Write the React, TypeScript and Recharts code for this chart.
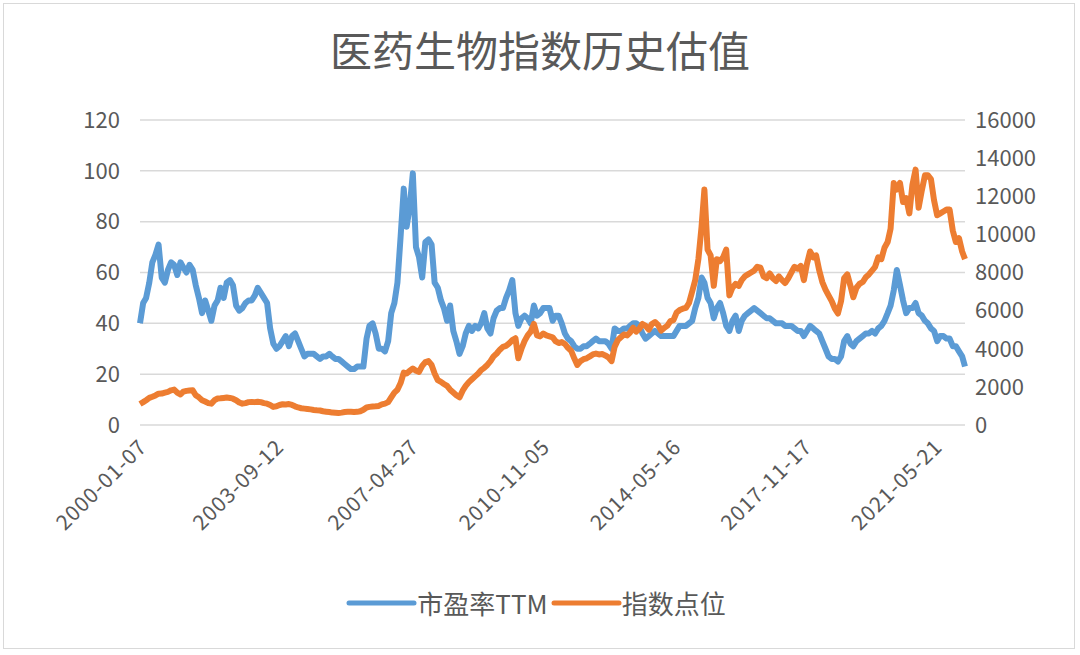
import React from 'react';
import { LineChart, Line, XAxis, YAxis, CartesianGrid, Legend } from 'recharts';

// monthly samples, 2000-01 .. 2022-03
const months = [
  '2000-01', '2000-02', '2000-03', '2000-04', '2000-05', '2000-06', '2000-07', '2000-08', '2000-09', '2000-10', '2000-11', '2000-12',
  '2001-01', '2001-02', '2001-03', '2001-04', '2001-05', '2001-06', '2001-07', '2001-08', '2001-09', '2001-10', '2001-11', '2001-12',
  '2002-01', '2002-02', '2002-03', '2002-04', '2002-05', '2002-06', '2002-07', '2002-08', '2002-09', '2002-10', '2002-11', '2002-12',
  '2003-01', '2003-02', '2003-03', '2003-04', '2003-05', '2003-06', '2003-07', '2003-08', '2003-09', '2003-10', '2003-11', '2003-12',
  '2004-01', '2004-02', '2004-03', '2004-04', '2004-05', '2004-06', '2004-07', '2004-08', '2004-09', '2004-10', '2004-11', '2004-12',
  '2005-01', '2005-02', '2005-03', '2005-04', '2005-05', '2005-06', '2005-07', '2005-08', '2005-09', '2005-10', '2005-11', '2005-12',
  '2006-01', '2006-02', '2006-03', '2006-04', '2006-05', '2006-06', '2006-07', '2006-08', '2006-09', '2006-10', '2006-11', '2006-12',
  '2007-01', '2007-02', '2007-03', '2007-04', '2007-05', '2007-06', '2007-07', '2007-08', '2007-09', '2007-10', '2007-11', '2007-12',
  '2008-01', '2008-02', '2008-03', '2008-04', '2008-05', '2008-06', '2008-07', '2008-08', '2008-09', '2008-10', '2008-11', '2008-12',
  '2009-01', '2009-02', '2009-03', '2009-04', '2009-05', '2009-06', '2009-07', '2009-08', '2009-09', '2009-10', '2009-11', '2009-12',
  '2010-01', '2010-02', '2010-03', '2010-04', '2010-05', '2010-06', '2010-07', '2010-08', '2010-09', '2010-10', '2010-11', '2010-12',
  '2011-01', '2011-02', '2011-03', '2011-04', '2011-05', '2011-06', '2011-07', '2011-08', '2011-09', '2011-10', '2011-11', '2011-12',
  '2012-01', '2012-02', '2012-03', '2012-04', '2012-05', '2012-06', '2012-07', '2012-08', '2012-09', '2012-10', '2012-11', '2012-12',
  '2013-01', '2013-02', '2013-03', '2013-04', '2013-05', '2013-06', '2013-07', '2013-08', '2013-09', '2013-10', '2013-11', '2013-12',
  '2014-01', '2014-02', '2014-03', '2014-04', '2014-05', '2014-06', '2014-07', '2014-08', '2014-09', '2014-10', '2014-11', '2014-12',
  '2015-01', '2015-02', '2015-03', '2015-04', '2015-05', '2015-06', '2015-07', '2015-08', '2015-09', '2015-10', '2015-11', '2015-12',
  '2016-01', '2016-02', '2016-03', '2016-04', '2016-05', '2016-06', '2016-07', '2016-08', '2016-09', '2016-10', '2016-11', '2016-12',
  '2017-01', '2017-02', '2017-03', '2017-04', '2017-05', '2017-06', '2017-07', '2017-08', '2017-09', '2017-10', '2017-11', '2017-12',
  '2018-01', '2018-02', '2018-03', '2018-04', '2018-05', '2018-06', '2018-07', '2018-08', '2018-09', '2018-10', '2018-11', '2018-12',
  '2019-01', '2019-02', '2019-03', '2019-04', '2019-05', '2019-06', '2019-07', '2019-08', '2019-09', '2019-10', '2019-11', '2019-12',
  '2020-01', '2020-02', '2020-03', '2020-04', '2020-05', '2020-06', '2020-07', '2020-08', '2020-09', '2020-10', '2020-11', '2020-12',
  '2021-01', '2021-02', '2021-03', '2021-04', '2021-05', '2021-06', '2021-07', '2021-08', '2021-09', '2021-10', '2021-11', '2021-12',
  '2022-01', '2022-02', '2022-03',
];

// 市盈率TTM (left axis)
const peTTM = [
  40, 48, 50, 56, 64, 67, 71, 58, 56, 61, 64, 63,
  59, 64, 62, 60, 63, 61, 55, 50, 44, 49, 45, 41,
  47, 49, 54, 50, 56, 57, 55, 47, 45, 46, 48, 49,
  49, 51, 54, 52, 50, 48, 38, 32, 30, 31, 33, 35,
  31, 35, 36, 33, 30, 27, 28, 28, 28, 27, 26, 27,
  27, 28, 27, 26, 26, 25, 24, 23, 22, 22, 23, 23,
  23, 34, 39, 40, 36, 30, 30, 29, 33, 44, 48, 56,
  74, 93, 78, 86, 99, 70, 66, 58, 72, 73, 71, 56,
  54, 49, 46, 41, 47, 37, 33, 28, 31, 36, 39, 37,
  39, 38, 40, 44, 38, 36, 42, 45, 46, 46, 50, 53,
  57, 44, 39, 42, 43, 42, 40, 47, 43, 44, 46, 46,
  46, 41, 43, 43, 40, 36, 34, 33, 31, 30, 30, 31,
  31, 32, 33, 34, 33, 33, 33, 32, 30, 38, 37, 37,
  38, 38, 39, 40, 40, 39, 36, 34, 35, 36, 37, 36,
  35, 35, 35, 35, 35, 37, 39, 39, 39, 40, 41, 46,
  50, 58, 56, 50, 48, 42, 46, 48, 44, 39, 37, 41,
  43, 37, 41, 43, 44, 45, 46, 45, 44, 43, 42, 42,
  41, 40, 40, 40, 39, 39, 39, 38, 37, 37, 35, 37,
  39, 38, 37, 36, 33, 30, 27, 26, 26, 25, 27, 33,
  35, 32, 31, 33, 34, 35, 36, 36, 37, 36, 38, 39,
  41, 44, 47, 53, 61, 55, 49, 44, 46, 46, 48, 44,
  43, 41, 40, 38, 37, 33, 35, 35, 34, 34, 31, 31,
  29, 27, 23,
];

// 指数点位 (right axis)
const indexPoints = [
  1100, 1200, 1300, 1420, 1480, 1550, 1640, 1650, 1700, 1740, 1820, 1860,
  1700, 1600, 1750, 1790, 1810, 1820, 1560, 1450, 1300, 1230, 1150, 1120,
  1300, 1390, 1400, 1420, 1440, 1420, 1380, 1300, 1180, 1120, 1150, 1200,
  1210, 1200, 1220, 1200, 1150, 1120, 1050, 950, 980, 1050, 1090, 1080,
  1100, 1050, 980, 920, 880, 860, 840, 820, 790, 770, 760, 720,
  700, 680, 650, 640, 630, 650, 680, 690, 690, 680, 690, 720,
  800, 920, 950, 970, 980, 1000, 1080, 1120, 1200, 1450, 1700, 1850,
  2200, 2750, 2700, 2850, 2960, 2850, 2790, 3100, 3300, 3350, 3150, 2700,
  2350, 2260, 2150, 2050, 1850, 1700, 1560, 1450, 1800, 2050, 2250, 2400,
  2550, 2700, 2880, 3000, 3150, 3350, 3600, 3750, 3950, 4100, 4150, 4280,
  4450, 4550, 3500, 4000, 4400, 4700, 4900, 5300, 4700, 4650, 4800, 4700,
  4650, 4600, 4400, 4300, 4350, 4250, 4050, 3900, 3500, 3150, 3350, 3450,
  3500, 3600, 3700, 3750, 3700, 3720, 3650, 3550, 3350, 4100, 4450, 4600,
  4750, 4700, 4850, 5100, 4900, 5050, 5300, 5200, 5000, 5300, 5400, 5250,
  4950, 5100, 5200, 5450, 5500, 5900, 6030, 6100, 6150, 6400, 7000, 7600,
  8700, 10400, 12350, 9200, 8900, 7300, 8700, 8600, 8800, 9200, 6800, 7200,
  7400, 7300, 7600, 7800, 7900, 8000, 8100, 8300, 8250, 7800, 7700, 7950,
  7700, 7550, 7800, 7600, 7450, 7700, 8000, 8300, 8200, 8350, 7600, 8450,
  9100, 8800, 8900, 8100, 7500, 7100, 6800, 6500, 6100, 5850, 6500, 7700,
  7900, 7300, 6700, 7200, 7400, 7500, 7750, 7900, 8100, 8300, 8800, 8700,
  9300, 9600, 10300, 12700, 12350, 12700, 11700, 11900, 11100, 12600, 13400, 11400,
  12300, 13100, 13100, 12900, 11800, 11000, 11100, 11200, 11300, 11300, 10200, 9600,
  9800, 9100, 8700,
];

const xTickLabels = ['2000-01-07', '2003-09-12', '2007-04-27', '2010-11-05', '2014-05-16', '2017-11-17', '2021-05-21'];
const peTicks = [0, 20, 40, 60, 80, 100, 120];
const indexTicks = [0, 2000, 4000, 6000, 8000, 10000, 12000, 14000, 16000];

const series = [
  { key: 'pe', label: '市盈率TTM', color: '#5B9BD5', axis: 'pe' },
  { key: 'index', label: '指数点位', color: '#ED7D31', axis: 'index' },
];

const FONT = "'Noto Sans CJK SC', 'Noto Sans', sans-serif";
const TEXT = '#595959';

const toTime = (s: string) => {
  const [y, m, d] = s.split('-').map(Number);
  return Date.UTC(y, m - 1, d || 7);
};

const data = months.map((m, i) => ({ t: toTime(m), pe: peTTM[i], index: indexPoints[i] }));
const labelByTime: Record<number, string> = {};
xTickLabels.forEach((l) => { labelByTime[toTime(l)] = l; });

const DateTick = ({ x, y, payload }: any) => (
  <g transform={`translate(${x + 3},${y + 10})`}>
    <text
      x={0}
      y={0}
      dy="0.35em"
      textAnchor="end"
      transform="rotate(-45)"
      fill={TEXT}
      fontSize={21}
      letterSpacing={1}
      fontFamily={FONT}
    >
      {labelByTime[payload.value]}
    </text>
  </g>
);

const LegendContent = () => (
  <div style={{ display: 'flex', justifyContent: 'center', alignItems: 'center', height: 30, fontFamily: FONT }}>
    {series.map((s, i) => (
      <div key={s.key} style={{ display: 'flex', alignItems: 'center', marginLeft: i ? 3 : 0 }}>
        <svg width={71} height={10}>
          <line x1={3} y1={5} x2={68} y2={5} stroke={s.color} strokeWidth={5} strokeLinecap="round" />
        </svg>
        <span style={{ fontSize: 26, color: TEXT, lineHeight: '30px' }}>{s.label}</span>
      </div>
    ))}
  </div>
);

export default function App() {
  return (
    <div style={{ position: 'absolute', left: 0, top: 0, width: 1080, height: 655, background: '#fff' }}>
      <div
        style={{
          position: 'absolute',
          left: 3,
          top: 3,
          width: 1072,
          height: 646,
          border: '1px solid #d9d9d9',
          boxSizing: 'border-box',
        }}
      />
      <div
        style={{
          position: 'absolute',
          left: 0,
          top: 25,
          width: 1080,
          textAlign: 'center',
          fontFamily: FONT,
          fontSize: 42,
          lineHeight: '48px',
          color: TEXT,
        }}
      >
        医药生物指数历史估值
      </div>
      <div style={{ position: 'absolute', left: 0, top: 0 }}>
        <LineChart width={1080} height={655} data={data} margin={{ top: 120, right: 20, left: 60, bottom: 37 }}>
          <CartesianGrid vertical={false} yAxisId="pe" stroke="#d9d9d9" strokeWidth={1.5} />
          <XAxis
            dataKey="t"
            type="number"
            domain={[data[0].t, data[data.length - 1].t]}
            ticks={xTickLabels.map(toTime)}
            tick={<DateTick />}
            axisLine={false}
            tickLine={false}
            height={163}
            interval={0}
          />
          <YAxis
            yAxisId="pe"
            orientation="left"
            domain={[0, 120]}
            ticks={peTicks}
            width={80}
            axisLine={false}
            tickLine={false}
            tickMargin={14}
            tick={{ fill: TEXT, fontSize: 22, fontFamily: FONT }}
          />
          <YAxis
            yAxisId="index"
            orientation="right"
            domain={[0, 16000]}
            ticks={indexTicks}
            width={95}
            axisLine={false}
            tickLine={false}
            tickMargin={4}
            tick={{ fill: TEXT, fontSize: 22, fontFamily: FONT, textAnchor: 'start' }}
          />
          <Legend
            verticalAlign="bottom"
            align="center"
            wrapperStyle={{ left: 0, width: 1072 }}
            content={<LegendContent />}
          />
          {series.map((s) => (
            <Line
              key={s.key}
              yAxisId={s.axis}
              dataKey={s.key}
              name={s.label}
              type="linear"
              stroke={s.color}
              strokeWidth={6}
              strokeLinejoin="round"
              dot={false}
              isAnimationActive={false}
            />
          ))}
        </LineChart>
      </div>
    </div>
  );
}
